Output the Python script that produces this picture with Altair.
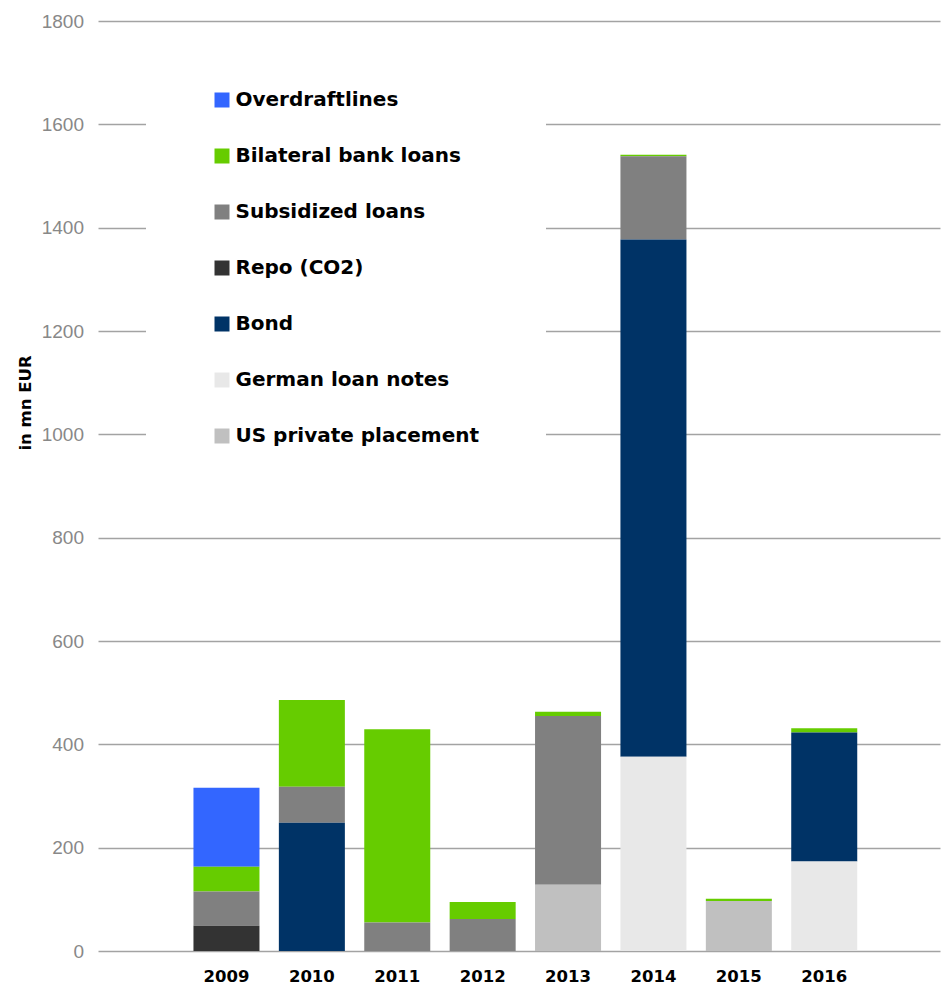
import altair as alt
import pandas as pd

years = ["2009", "2010", "2011", "2012", "2013", "2014", "2015", "2016"]
series = ["Overdraftlines", "Bilateral bank loans", "Subsidized loans", "Repo (CO2)",
          "Bond", "German loan notes", "US private placement"]
colors = ["#3366FF", "#66CC00", "#808080", "#333333", "#003366", "#E8E8E8", "#C0C0C0"]
# stacking order from bottom (0) to top (6)
stack_rank = {"US private placement": 0, "German loan notes": 1, "Bond": 2, "Repo (CO2)": 3,
              "Subsidized loans": 4, "Bilateral bank loans": 5, "Overdraftlines": 6}

overdraft = [153, 0, 0, 0, 0, 0, 0, 0]
bilateral = [48, 168, 374, 33, 8, 3, 4, 8]
subsidized = [66, 70, 55, 62, 327, 161, 0, 0]
repo = [49, 0, 0, 0, 0, 0, 0, 0]
bond = [0, 248, 0, 0, 0, 1001, 0, 250]
german = [0, 0, 0, 0, 0, 376, 0, 173]
us_pp = [0, 0, 0, 0, 128, 0, 97, 0]

values = {
    "Overdraftlines": overdraft,
    "Bilateral bank loans": bilateral,
    "Subsidized loans": subsidized,
    "Repo (CO2)": repo,
    "Bond": bond,
    "German loan notes": german,
    "US private placement": us_pp,
}

rows = []
for s in series:
    for y, v in zip(years, values[s]):
        if v > 0:
            rows.append({"year": y, "type": s, "value": v, "rank": stack_rank[s]})
df = pd.DataFrame(rows)

bold_font = "DejaVu Sans"

chart = alt.Chart(df).mark_bar(strokeWidth=0, width=alt.RelativeBandSize(0.773)).encode(
    x=alt.X("year:N", sort=years,
            scale=alt.Scale(paddingInner=0, paddingOuter=0.93, align=0.54),
            axis=alt.Axis(title=None, ticks=False, tickSize=0, domain=False, grid=False,
                          labelAngle=0, labelFont=bold_font, labelFontWeight="bold",
                          labelFontSize=16.5, labelColor="#000000",
                          labelBaseline="alphabetic", labelPadding=30)),
    y=alt.Y("sum(value):Q", stack="zero",
            scale=alt.Scale(domain=[0, 1800], nice=False),
            axis=alt.Axis(title="in mn EUR", values=list(range(0, 1801, 200)), format="d",
                          ticks=False, tickSize=0, domain=False,
                          grid=True, gridColor="#A3A3A3", gridWidth=1.6,
                          labelFont="Liberation Sans", labelFontSize=19,
                          labelColor="#888888", labelPadding=14.5,
                          titleFont=bold_font, titleFontWeight="bold", titleFontSize=16.5,
                          titleColor="#000000", titleAngle=270, titleAlign="center",
                          titleBaseline="alphabetic", titleX=-68, titleY=381.5)),
    color=alt.Color("type:N",
                    scale=alt.Scale(domain=series, range=colors),
                    legend=alt.Legend(title=None, orient="none", direction="vertical",
                                      legendX=48, legendY=3, padding=66,
                                      fillColor="#FFFFFF", rowPadding=36,
                                      symbolType="square", symbolSize=225,
                                      symbolStrokeWidth=0, symbolOpacity=1,
                                      labelFont=bold_font, labelFontWeight="bold",
                                      labelFontSize=20, labelColor="#000000",
                                      labelOffset=3.5, labelLimit=500)),
    order=alt.Order("rank:Q", sort="ascending"),
).properties(
    width=842,
    height=930,
    autosize=alt.AutoSizeParams(type="none"),
    padding={"left": 98, "top": 21, "right": 2, "bottom": 34},
).configure_view(stroke=None)

chart.save("out.html", embed_options={"renderer": "svg", "actions": False})
